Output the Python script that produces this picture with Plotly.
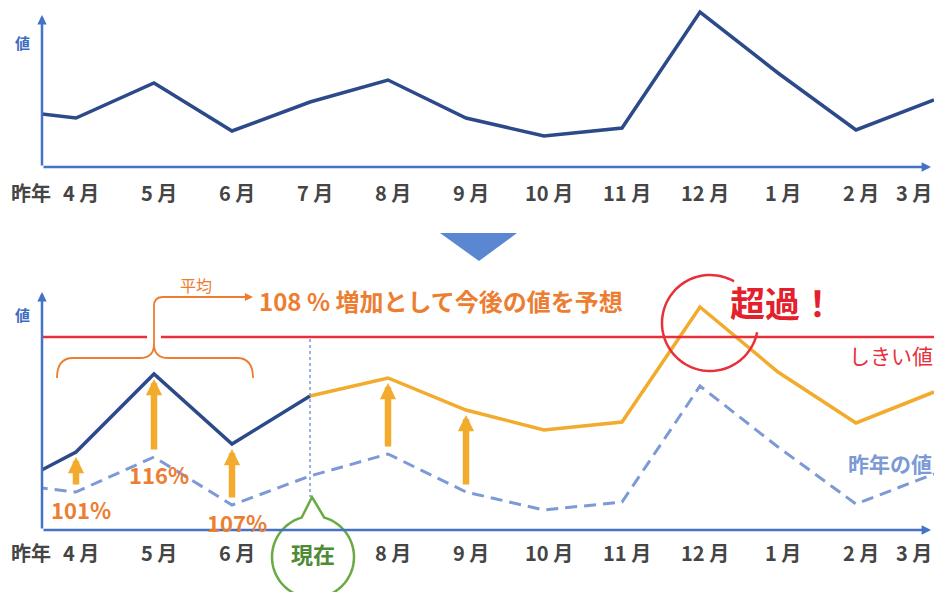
import numpy as np
import plotly.graph_objects as go

W, H = 934, 592
FONT = "Noto Sans CJK JP"

# ---------------- data ----------------
month_labels = ["4 月", "5 月", "6 月", "7 月", "8 月", "9 月",
                "10 月", "11 月", "12 月", "1 月", "2 月", "3 月"]
prev_year_tag = "昨年"
value_label = "値"

last_year_prev_march = 58                      # runs in from the left edge
last_year = [49, 84, 36, 65, 87, 49, 31, 39, 155, 94, 37, 67]

this_year_prev_march = 48
this_year_actual = [89, 167, 97, 145]          # 4月 – 7月
forecast = [163, 131, 111, 119, 234, 169, 118, 149]   # 8月 – 3月

threshold = 204
threshold_label = "しきい値"
last_year_label = "昨年の値"

growth_months = ["4 月", "5 月", "6 月"]
growth_rates = ["101%", "116%", "107%"]
forecast_arrow_months = ["8 月", "9 月"]
avg_label = "平均"
avg_growth = "108 %"
forecast_note = " 増加として今後の値を予想"
current_month = "7 月"
current_label = "現在"
over_label = "超過！"

# ---------------- colours ----------------
NAVY = "#2c4a8a"
AXIS = "#4472c4"
DASH = "#7c9ad6"
GOLD = "#f2ab2c"
ORANGE = "#ed7d31"
RED = "#e8303a"
GREEN = "#6aaa44"
GREEN_TXT = "#4f8a35"
TICK = "#454545"

# ---------------- geometry helpers ----------------
PLOT_L, PLOT_R = 42, 934
STEP = 78.0
FIRST_X = 76
X_LO = -(FIRST_X - PLOT_L) / STEP
X_HI = X_LO + (PLOT_R - PLOT_L) / STEP

TOP_AX, TOP_TOP = 167, 5          # pixel rows of the top panel
BOT_AX, BOT_TOP = 530, 280        # pixel rows of the bottom panel
BOT_BASE = 11                     # value sitting on the bottom x axis


def px(x):
    return x / W


def py(y):
    return 1 - y / H


def xpix(i):
    return PLOT_L + (i - X_LO) * STEP


def bot_ypix(v):
    return BOT_AX - (v - BOT_BASE)


def path(points, close=False):
    s = "M " + " L ".join(f"{px(x):.5f},{py(y):.5f}" for x, y in points)
    return s + (" Z" if close else "")


def note(x, y, text, size, color, anchor="center", weight="normal"):
    return dict(xref="paper", yref="paper", x=px(x), y=py(y), text=text,
                xanchor=anchor, yanchor="middle", showarrow=False,
                font=dict(family=FONT, size=size, color=color, weight=weight))


idx = list(range(len(month_labels)))
m_index = {m: i for i, m in enumerate(month_labels)}

fig = go.Figure()

# ---------------- top panel: last year ----------------
fig.add_trace(go.Scatter(
    x=[-1] + idx, y=[last_year_prev_march] + last_year,
    mode="lines", line=dict(color=NAVY, width=3.5),
    xaxis="x", yaxis="y", hoverinfo="skip"))

# ---------------- bottom panel ----------------
fig.add_trace(go.Scatter(
    x=[-1] + idx, y=[last_year_prev_march] + last_year,
    mode="lines", line=dict(color=DASH, width=3, dash="12px,7px"),
    xaxis="x2", yaxis="y2", hoverinfo="skip"))

cur = m_index[current_month]
fig.add_trace(go.Scatter(
    x=list(range(cur, len(idx))), y=[this_year_actual[-1]] + forecast,
    mode="lines", line=dict(color=GOLD, width=3.5),
    xaxis="x2", yaxis="y2", hoverinfo="skip"))
fig.add_trace(go.Scatter(
    x=[-1] + idx[:cur + 1], y=[this_year_prev_march] + this_year_actual,
    mode="lines", line=dict(color=NAVY, width=3.5),
    xaxis="x2", yaxis="y2", hoverinfo="skip"))

this_year_all = this_year_actual + forecast

shapes = []
annotations = []

# threshold line
shapes.append(dict(type="line", xref="x2 domain", yref="y2",
                   x0=0, x1=1, y0=threshold, y1=threshold,
                   line=dict(color=RED, width=2.5), layer="above"))

# dotted "now" marker
tip_y = 497
shapes.append(dict(type="line", xref="x2", yref="y2",
                   x0=cur, x1=cur, y0=threshold - 2,
                   y1=BOT_BASE + (BOT_AX - tip_y),
                   line=dict(color=DASH, width=1.5, dash="dot"), layer="above"))

# bracket over 4月–6月 with stem to the note
bx0 = xpix(0) - 19
bx1 = xpix(2) + 21
bmid = xpix(1)
by, bend, stem_top, note_y = 358, 378, 297, 297
# white gap where the stem crosses the threshold line
ty = bot_ypix(threshold)
shapes.append(dict(type="line", xref="paper", yref="paper",
                   x0=px(bmid), x1=px(bmid), y0=py(ty - 5), y1=py(ty + 5),
                   line=dict(color="white", width=14), layer="above"))
brace = (f"M {px(bx0):.5f},{py(bend):.5f} "
         f"Q {px(bx0):.5f},{py(by):.5f} {px(bx0 + 16):.5f},{py(by):.5f} "
         f"L {px(bmid - 14):.5f},{py(by):.5f} "
         f"Q {px(bmid):.5f},{py(by):.5f} {px(bmid):.5f},{py(by - 14):.5f} "
         f"L {px(bmid):.5f},{py(stem_top + 9):.5f} "
         f"Q {px(bmid):.5f},{py(stem_top):.5f} {px(bmid + 9):.5f},{py(stem_top):.5f} "
         f"L {px(246):.5f},{py(note_y):.5f} "
         f"M {px(bmid):.5f},{py(by - 14):.5f} "
         f"Q {px(bmid):.5f},{py(by):.5f} {px(bmid + 14):.5f},{py(by):.5f} "
         f"L {px(bx1 - 16):.5f},{py(by):.5f} "
         f"Q {px(bx1):.5f},{py(by):.5f} {px(bx1):.5f},{py(bend):.5f}")
shapes.append(dict(type="path", xref="paper", yref="paper", path=brace,
                   line=dict(color=ORANGE, width=1.8), layer="above"))
annotations.append(dict(xref="paper", yref="paper", axref="pixel", ayref="pixel",
                        x=px(253), y=py(note_y), ax=-8, ay=0, text="",
                        showarrow=True, arrowhead=2, arrowsize=0.9,
                        arrowwidth=1.8, arrowcolor=ORANGE))

# red circle (open on the upper right) around the peak over the threshold
cx, cy, r = xpix(8) + 10, 323, 48
th = np.radians(np.linspace(60, 349, 80))
shapes.append(dict(type="path", xref="paper", yref="paper",
                   path=path(list(zip(cx + r * np.cos(th), cy - r * np.sin(th)))),
                   line=dict(color=RED, width=2.5), layer="above"))

# "now" callout bubble
gx, gy, gr = xpix(cur) + 3, 557, 41
th = np.radians(np.linspace(106, 434, 90))
bubble = [(gx - 1, tip_y)] + list(zip(gx + gr * np.cos(th), gy - gr * np.sin(th)))
shapes.append(dict(type="path", xref="paper", yref="paper",
                   path=path(bubble, close=True), fillcolor="white",
                   line=dict(color=GREEN, width=2.5), layer="above"))

# down-pointing triangle between the panels
shapes.append(dict(type="path", xref="paper", yref="paper",
                   path=path([(440, 233), (517, 233), (479, 261)], close=True),
                   fillcolor="#5b87d2", line=dict(width=0), layer="above"))


# ---------------- axes drawn as arrows ----------------
def axis_arrows(xa, ya, y_base, y_head):
    annotations.append(dict(xref=xa, yref=ya, axref=xa, ayref=ya,
                            x=X_LO, y=y_head, ax=X_LO, ay=y_base, text="",
                            showarrow=True, arrowhead=2, arrowsize=0.75,
                            arrowwidth=2.5, arrowcolor=AXIS))
    annotations.append(dict(xref=xa, yref=ya, axref=xa, ayref=ya,
                            x=X_LO + (931 - PLOT_L) / STEP, y=y_base,
                            ax=X_LO, ay=y_base, text="",
                            showarrow=True, arrowhead=2, arrowsize=0.75,
                            arrowwidth=2.5, arrowcolor=AXIS))


axis_arrows("x", "y", 0, TOP_AX - 15)
axis_arrows("x2", "y2", BOT_BASE, BOT_BASE + (BOT_AX - 292))

# value-axis captions
for yy in (42, 314):
    annotations.append(note(22, yy, value_label, 15, "#3b6cc0", weight="bold"))


# ---------------- month labels ----------------
def month_row(xa, ypx, skip=None):
    for i, lab in enumerate(month_labels):
        if lab == skip:
            continue
        last = i == len(month_labels) - 1
        annotations.append(dict(
            xref=xa, yref="paper", x=i, y=py(ypx), text=lab, showarrow=False,
            xanchor="right" if last else "center", yanchor="middle",
            xshift=0 if last else 5,
            font=dict(family=FONT, size=20, color=TICK, weight="bold")))
    annotations.append(note(31, ypx, prev_year_tag, 20, TICK, weight="bold"))


month_row("x", 192)
month_row("x2", 552, skip=current_month)

# ---------------- growth arrows and rates ----------------
for m in growth_months + forecast_arrow_months:
    i = m_index[m]
    annotations.append(dict(xref="x2", yref="y2", axref="x2", ayref="y2",
                            x=i, y=this_year_all[i] - 5,
                            ax=i, ay=last_year[i] + 6, text="",
                            showarrow=True, arrowhead=2, arrowsize=0.5,
                            arrowwidth=6.5, arrowcolor=GOLD))

for m, rate in zip(growth_months, growth_rates):
    i = m_index[m]
    annotations.append(dict(xref="x2", yref="y2", x=i, y=last_year[i],
                            xanchor="center", yanchor="middle",
                            yshift=-17, xshift=5,
                            text=f"<b>{rate}</b>", showarrow=False,
                            font=dict(family=FONT, size=22, color=ORANGE)))

# ---------------- notes ----------------
annotations += [
    note(196, 285, avg_label, 16, ORANGE),
    note(257, 300, f"{avg_growth}{forecast_note}", 24, ORANGE,
         anchor="left", weight="bold"),
    note(728, 301, over_label, 35, "#e4202c", anchor="left", weight="bold"),
    note(847, 355, threshold_label, 21, RED, anchor="left"),
    note(846, 463, last_year_label, 21, DASH, anchor="left", weight="bold"),
    note(gx, 553, current_label, 22, GREEN_TXT, weight="bold"),
]

hidden = dict(visible=False, showgrid=False, zeroline=False, fixedrange=True)
fig.update_layout(
    width=W, height=H,
    margin=dict(l=0, r=0, t=0, b=0),
    paper_bgcolor="white", plot_bgcolor="white",
    showlegend=False,
    xaxis=dict(hidden, domain=[px(PLOT_L), 1], range=[X_LO, X_HI], anchor="y"),
    yaxis=dict(hidden, domain=[py(TOP_AX), py(TOP_TOP)],
               range=[0, TOP_AX - TOP_TOP], anchor="x"),
    xaxis2=dict(hidden, domain=[px(PLOT_L), 1], range=[X_LO, X_HI], anchor="y2"),
    yaxis2=dict(hidden, domain=[py(BOT_AX), py(BOT_TOP)],
                range=[BOT_BASE, BOT_BASE + (BOT_AX - BOT_TOP)], anchor="x2"),
    shapes=shapes,
    annotations=annotations,
)

fig.write_html("out.html")
